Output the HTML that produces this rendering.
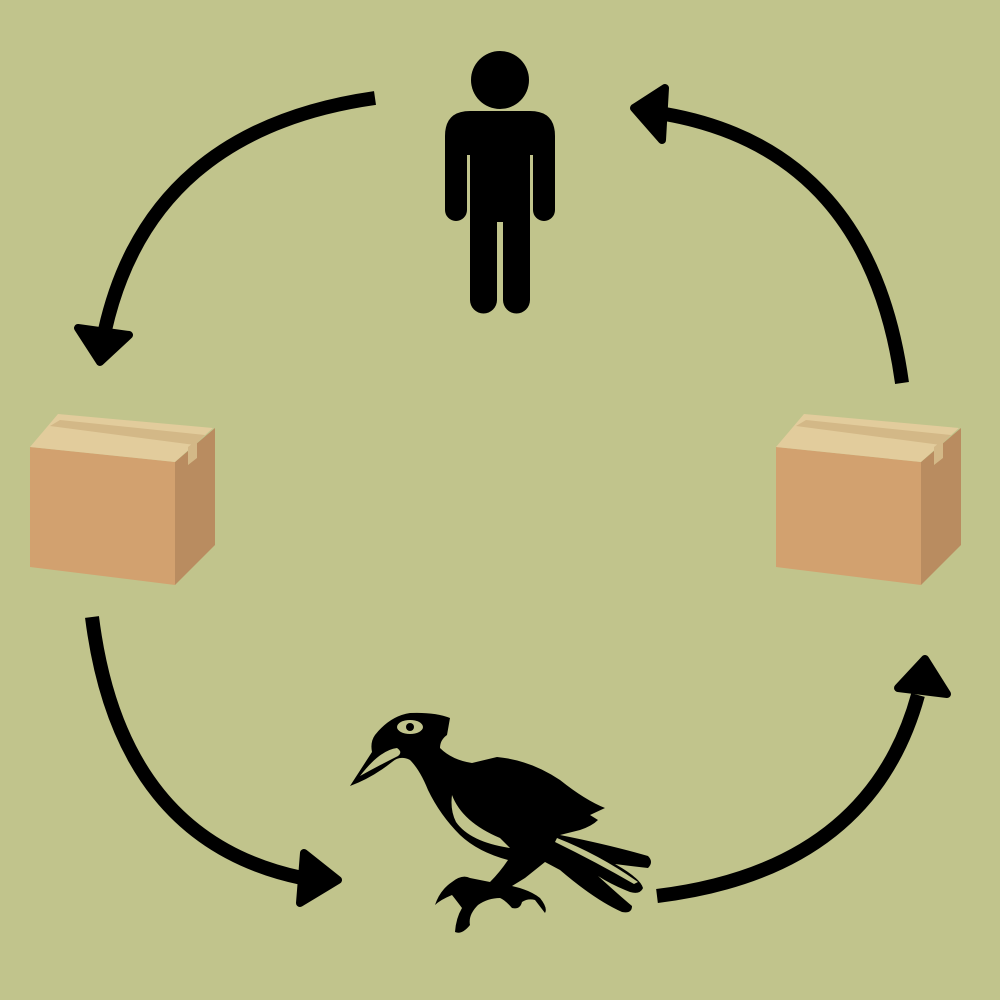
<!DOCTYPE html>
<html><head><meta charset="utf-8"><style>html,body{margin:0;padding:0;background:#c1c48c;}svg{display:block}</style></head>
<body>
<svg width="1000" height="1000" viewBox="0 0 1000 1000" xmlns="http://www.w3.org/2000/svg">
<rect width="1000" height="1000" fill="#c1c48c"/>
<defs>
<g id="box">
  <polygon points="30,447 175,462 175,585 30,567" fill="#d2a16f"/>
  <polygon points="175,462 215,428 215,545 175,585" fill="#b98c60"/>
  <polygon points="30,447 58,414 213,428 175,462" fill="#e2cc9c"/>
  <polygon points="50,426 60,420 205,435 195,445" fill="#d3b887"/>
  <polygon points="188,447 197,440 197,458 188,465" fill="#d3b887"/>
</g>
</defs>
<use href="#box"/>
<use href="#box" x="746"/>
<g fill="#000">
  <circle cx="500" cy="80" r="29"/>
  <path d="M470,111 H530 Q555,111 555,136 V210 A11,11 0 0 1 533,210 V155 H530 V300 A12,12 0 0 1 503,300 V222 H497 V300 A12,12 0 0 1 470,300 V155 H467 V210 A11,11 0 0 1 445,210 V136 Q445,111 470,111 Z"/>
</g>
<g fill="none" stroke="#000" stroke-width="14">
  <path d="M375,98 Q150,130 105,330"/>
  <path d="M902,383 Q870,150 665,114"/>
  <path d="M92,617 Q120,840 302,878"/>
  <path d="M657,896 Q870,870 918,695"/>
</g>
<g fill="#000" stroke="#000" stroke-width="8" stroke-linejoin="round">
  <polygon points="100,362 78,328 129,335"/>
  <polygon points="634,108 665,88 662,140"/>
  <polygon points="338,880 304,853 300,903"/>
  <polygon points="925,659 898,688 947,694"/>
</g>
<!-- bird -->
<path fill="#000" d="M350,786 L372,752 Q370,742 375,735 Q390,716 410,713 Q435,712 450,718 L447,735 Q440,740 440,748 Q452,760 472,763 L497,757 Q530,760 560,780 Q585,800 605,808 L590,815 L598,820 Q592,826 580,830 L560,835 Q610,845 648,856 Q654,862 648,868 Q630,866 615,864 Q640,878 643,888 Q640,895 630,892 Q612,885 598,876 Q620,896 632,906 Q632,914 622,912 Q595,900 560,870 L545,862 Q535,870 525,878 L512,886 Q530,890 540,898 Q548,908 545,913 L535,900 Q528,898 522,902 Q520,910 512,908 Q505,900 500,898 Q488,898 478,905 Q468,915 470,925 Q462,935 455,932 Q456,918 462,908 Q456,900 452,895 Q440,900 435,905 Q440,890 452,882 Q462,874 470,878 L490,882 Q500,872 508,860 Q478,852 460,835 Q440,815 428,790 Q420,770 410,760 Q400,755 392,762 Q372,778 350,786 Z"/>
<g fill="#c1c48c">
  <ellipse cx="410" cy="727" rx="13" ry="7"/>
  <circle cx="410" cy="727" r="4" fill="#000"/>
  <path d="M360,776 Q380,750 397,748 Q403,752 398,756 Q378,766 360,776 Z"/>
  <path d="M452,795 Q462,822 500,838 L510,848 Q470,842 456,822 Q450,810 452,795 Z"/>
  <path d="M557,838 Q600,855 638,882 L634,884 Q596,862 555,842 Z"/>
</g>
</svg>
</body></html>
